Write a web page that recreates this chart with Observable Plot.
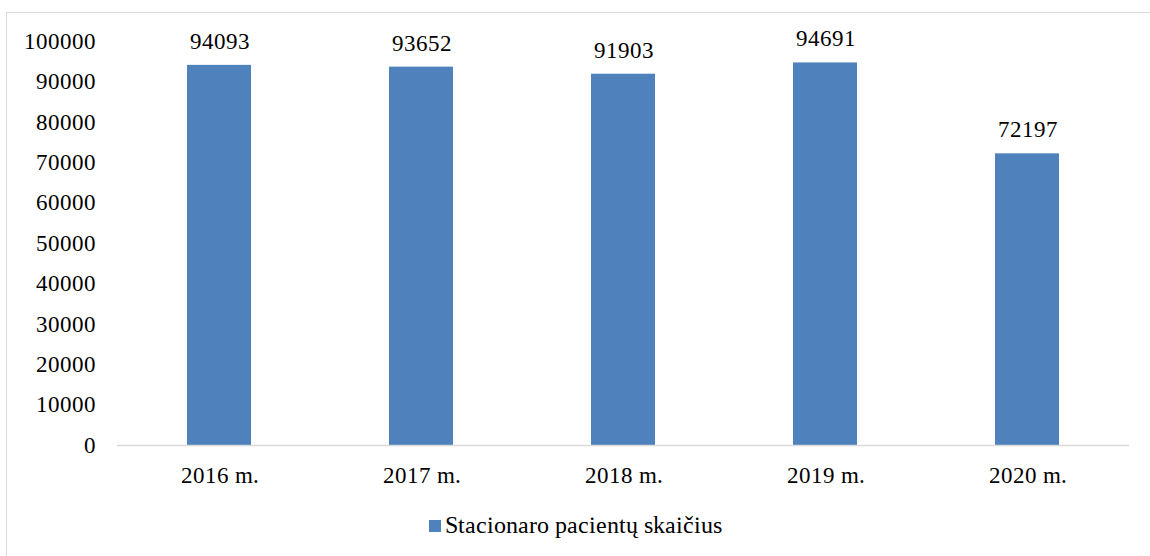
<!DOCTYPE html>
<html>
<head>
<meta charset="utf-8">
<script src="https://cdn.jsdelivr.net/npm/d3@7"></script>
<script src="https://cdn.jsdelivr.net/npm/@observablehq/plot@0.6"></script>
<style>
@font-face { font-family: "ChartSerif"; src: local("Liberation Serif"), local("LiberationSerif"), local("LiberationSerif-Regular"), local("Times New Roman"); }
</style>
</head>
<body style="margin:0;padding:0;background:#fff;font-family:'ChartSerif','Liberation Serif','Times New Roman',serif">
<div id="frame" style="position:absolute;left:6px;top:12px;width:1144px;height:544px;border-left:1px solid #d9d9d9;border-top:1px solid #d9d9d9"></div>
<div id="chart" style="position:absolute;left:0;top:0"></div>
<div id="legend" style="position:absolute;left:0;top:512px;width:1150px;display:flex;justify-content:center;align-items:center;font-size:24px;color:#000;font-family:'ChartSerif','Liberation Serif','Times New Roman',serif"><span style="display:inline-block;width:12px;height:12px;background:#4F81BD;margin-right:4px"></span><span id="legtext"></span></div>
<script>
const categories = ["2016 m.", "2017 m.", "2018 m.", "2019 m.", "2020 m."];
const values = [94093, 93652, 91903, 94691, 72197];
const yTicks = [0, 10000, 20000, 30000, 40000, 50000, 60000, 70000, 80000, 90000, 100000];
const seriesName = "Stacionaro pacientų skaičius";
const barColor = "#4F81BD";
const FONT = "'ChartSerif', 'Liberation Serif', 'Times New Roman', serif";

const data = categories.map((c, i) => ({ cat: c, value: values[i] }));

const chart = Plot.plot({
  width: 1150,
  height: 500,
  marginLeft: 117,
  marginRight: 21,
  marginTop: 41,
  marginBottom: 55,
  style: { fontFamily: FONT, fontSize: "23px", color: "#000", background: "transparent" },
  x: { domain: categories, paddingInner: 0.684, paddingOuter: 0.342, label: null },
  y: { domain: [0, 100000], label: null },
  marks: [
    Plot.axisY({ ticks: yTicks, tickSize: 0, tickPadding: 22, tickFormat: d => String(d), fontSize: 23, fontFamily: FONT, label: null }),
    Plot.axisX({ tickSize: 0, tickPadding: 21, fontSize: 23, fontFamily: FONT, label: null }),
    Plot.barY(data, { x: "cat", y: "value", fill: barColor }),
    Plot.ruleY([0], { stroke: "#d9d9d9", strokeWidth: 1.5 }),
    Plot.text(data, { x: "cat", y: "value", text: d => String(d.value), dy: -24, fontSize: 23, fontFamily: FONT, fill: "#000" })
  ]
});
document.getElementById("chart").appendChild(chart);
document.getElementById("legtext").textContent = seriesName;
</script>
</body>
</html>
